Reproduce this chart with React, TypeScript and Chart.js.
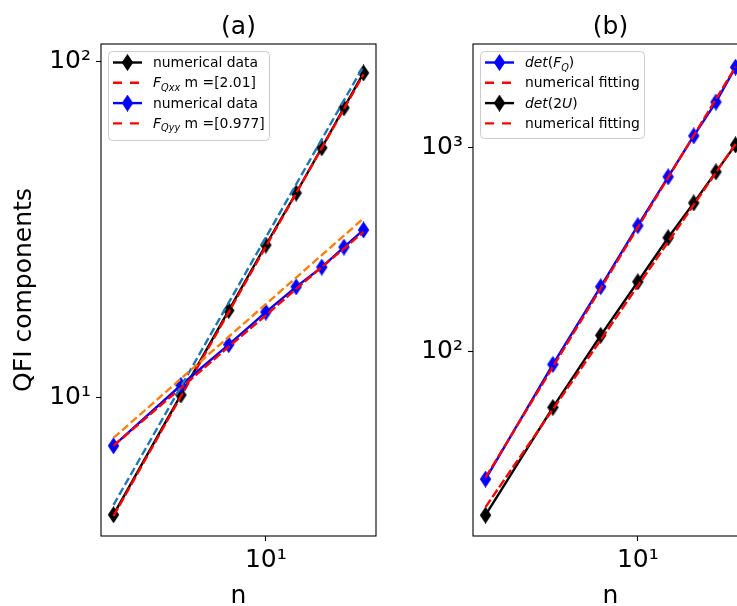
import React, { useEffect, useRef } from 'react';
import { Chart, registerables } from 'chart.js';
Chart.register(...registerables);

// ---------- data ----------
const nValues = [4, 6, 8, 10, 12, 14, 16, 18];
// panel (a)
const qxxData = [4.49, 10.2, 18.2, 28.5, 40.7, 55.5, 73.0, 92.7];
const qxxFit = [4.45, 10.1, 18.0, 28.2, 40.6, 55.4, 72.4, 91.8];
const qyyData = [7.2, 10.9, 14.4, 18.0, 21.4, 24.5, 28.1, 31.6];
const qyyFit = [7.2, 10.7, 14.2, 17.6, 21.1, 24.5, 27.8, 31.2];
const quadGuide = [4.8, 10.8, 19.2, 30.0, 43.2, 58.8, 76.8, 97.2];
const linearGuide = [7.6, 11.4, 15.2, 19.0, 22.8, 26.6, 30.4, 34.2];
// panel (b)
const detFQData = [23.6, 86.4, 208, 415, 721, 1146, 1680, 2494];
const detFQFit = [24.0, 84, 204, 407, 714, 1151, 1738, 2500];
const det2UData = [15.7, 53.1, 120, 220, 362, 537, 763, 1035];
const det2UFit = [17.2, 52.0, 114, 210, 345, 526, 757, 1045];
// ticks
const xTicks = [10];
const yTicksA = [10, 100];
const yTicksB = [100, 1000];

const FONT = '"DejaVu Sans", sans-serif';
const RED = '#ff0000';
const BLUE = '#0000ff';
const BLACK = '#000000';
const C0 = '#1f77b4';
const C1 = '#ff7f0e';
const LW = 2.4;
const RED_DASH = [9, 3];
const GUIDE_DASH = [8, 3.5];
const LEGEND_DASH = [9, 8];

const SUP: Record<string, string> = { '0': '⁰', '1': '¹', '2': '²', '3': '³', '4': '⁴', '5': '⁵', '6': '⁶', '7': '⁷', '8': '⁸', '9': '⁹' };
function powLabel(v: number): string {
  const e = Math.round(Math.log10(v));
  return '10' + String(e).split('').map((c) => SUP[c] || c).join('');
}

function makeDiamond(color: string): HTMLCanvasElement {
  const c = document.createElement('canvas');
  c.width = 13;
  c.height = 17;
  const ctx = c.getContext('2d')!;
  ctx.fillStyle = color;
  ctx.strokeStyle = color;
  ctx.lineWidth = 1.2;
  ctx.beginPath();
  ctx.moveTo(6.5, 1);
  ctx.lineTo(11.5, 8.5);
  ctx.lineTo(6.5, 16);
  ctx.lineTo(1.5, 8.5);
  ctx.closePath();
  ctx.fill();
  ctx.stroke();
  return c;
}

type Seg = { t: string; it?: boolean; sub?: boolean };
type LegendEntry = { dashed: boolean; color: string; marker?: HTMLCanvasElement; segs: Seg[] };
type Decor = { title: string; yTitle?: string; legend: LegendEntry[]; legendW: number; legendH: number };

function drawSegs(ctx: CanvasRenderingContext2D, x: number, baseline: number, segs: Seg[], size: number) {
  let cx = x;
  for (const s of segs) {
    const fs = s.sub ? size * 0.7 : size;
    ctx.font = `${s.it ? 'italic ' : ''}${fs}px ${FONT}`;
    ctx.fillText(s.t, cx, baseline + (s.sub ? size * 0.25 : 0));
    cx += ctx.measureText(s.t).width;
  }
}

function decorPlugin(d: Decor) {
  return {
    id: 'decor',
    afterDraw(chart: any) {
      const ctx: CanvasRenderingContext2D = chart.ctx;
      const a = chart.chartArea;
      ctx.save();
      // spines
      ctx.strokeStyle = BLACK;
      ctx.lineWidth = 1.1;
      ctx.setLineDash([]);
      ctx.strokeRect(a.left, a.top, a.right - a.left, a.bottom - a.top);
      // titles
      ctx.fillStyle = BLACK;
      ctx.font = `25px ${FONT}`;
      ctx.textAlign = 'center';
      ctx.textBaseline = 'alphabetic';
      const cx = (a.left + a.right) / 2;
      ctx.fillText(d.title, cx, 34);
      ctx.fillText('n', cx, 603);
      if (d.yTitle) {
        ctx.save();
        ctx.translate(31, (a.top + a.bottom) / 2);
        ctx.rotate(-Math.PI / 2);
        ctx.fillText(d.yTitle, 0, 0);
        ctx.restore();
      }
      // legend
      const bx = a.left + 7;
      const by = a.top + 7;
      ctx.beginPath();
      ctx.roundRect(bx + 0.5, by + 0.5, d.legendW, d.legendH, 4);
      ctx.fillStyle = 'rgba(255,255,255,0.8)';
      ctx.fill();
      ctx.strokeStyle = '#cccccc';
      ctx.lineWidth = 1;
      ctx.stroke();
      ctx.textAlign = 'left';
      d.legend.forEach((e, i) => {
        const ry = a.top + 18.5 + i * 20.3;
        const x1 = a.left + 12;
        const x2 = a.left + 41;
        ctx.beginPath();
        ctx.strokeStyle = e.color;
        ctx.lineWidth = LW;
        ctx.setLineDash(e.dashed ? LEGEND_DASH : []);
        ctx.moveTo(x1, ry);
        ctx.lineTo(x2, ry);
        ctx.stroke();
        ctx.setLineDash([]);
        if (e.marker) {
          ctx.drawImage(e.marker, (x1 + x2) / 2 - e.marker.width / 2, ry - e.marker.height / 2);
        }
        ctx.fillStyle = BLACK;
        drawSegs(ctx, a.left + 52, ry + 4.6, e.segs, 13.9);
      });
      ctx.restore();
    },
  };
}

function pts(ys: number[]) {
  return nValues.map((x, i) => ({ x, y: ys[i] }));
}

function dataSet(ys: number[], color: string, marker: HTMLCanvasElement) {
  return {
    data: pts(ys),
    borderColor: color,
    backgroundColor: color,
    borderWidth: LW,
    pointStyle: marker,
    pointRadius: 5,
    pointHoverRadius: 5,
    tension: 0,
    fill: false,
  };
}
function fitSet(ys: number[], color: string, dash: number[]) {
  return {
    data: pts(ys),
    borderColor: color,
    backgroundColor: color,
    borderWidth: LW,
    borderDash: dash,
    borderCapStyle: 'butt',
    pointRadius: 0,
    pointHoverRadius: 0,
    tension: 0,
    fill: false,
  };
}

function tickCfg() {
  return {
    font: { family: FONT, size: 25 },
    color: BLACK,
    autoSkip: false,
    maxRotation: 0,
    minRotation: 0,
    callback: (v: any) => powLabel(Number(v)),
  };
}
function gridCfg() {
  return { display: true, drawOnChartArea: false, drawTicks: true, tickLength: 5, tickColor: BLACK, tickWidth: 1.1 };
}

function buildConfig(datasets: any[], yMin: number, yMax: number, yTicks: number[], decor: Decor): any {
  return {
    type: 'line',
    data: { datasets },
    options: {
      animation: false,
      responsive: false,
      events: [],
      layout: { padding: { left: 0, right: 44, top: 44, bottom: 0 } },
      plugins: { legend: { display: false }, title: { display: false }, tooltip: { enabled: false } },
      scales: {
        x: {
          type: 'logarithmic',
          min: 3.71,
          max: 19.4,
          afterBuildTicks: (s: any) => {
            s.ticks = xTicks.map((v) => ({ value: v }));
          },
          afterFit: (s: any) => {
            s.height = 70;
          },
          ticks: { ...tickCfg(), padding: 4 },
          grid: gridCfg(),
          border: { display: false },
        },
        y: {
          type: 'logarithmic',
          min: yMin,
          max: yMax,
          afterBuildTicks: (s: any) => {
            s.ticks = yTicks.map((v) => ({ value: v }));
          },
          afterFit: (s: any) => {
            s.width = 101;
          },
          ticks: { ...tickCfg(), padding: 5 },
          grid: gridCfg(),
          border: { display: false },
        },
      },
    },
    plugins: [decorPlugin(decor)],
  };
}

export default function App() {
  const refA = useRef<HTMLCanvasElement>(null);
  const refB = useRef<HTMLCanvasElement>(null);
  useEffect(() => {
    const dBlack = makeDiamond(BLACK);
    const dBlue = makeDiamond(BLUE);
    const cfgA = buildConfig(
      [
        fitSet(linearGuide, C1, GUIDE_DASH),
        fitSet(quadGuide, C0, GUIDE_DASH),
        fitSet(qyyFit, RED, RED_DASH),
        dataSet(qyyData, BLUE, dBlue),
        fitSet(qxxFit, RED, RED_DASH),
        dataSet(qxxData, BLACK, dBlack),
      ],
      3.88,
      113,
      yTicksA,
      {
        title: '(a)',
        yTitle: 'QFI components',
        legendW: 161,
        legendH: 89,
        legend: [
          { dashed: false, color: BLACK, marker: dBlack, segs: [{ t: 'numerical data' }] },
          { dashed: true, color: RED, segs: [{ t: 'F', it: true }, { t: 'Qxx', it: true, sub: true }, { t: ' m =[2.01]' }] },
          { dashed: false, color: BLUE, marker: dBlue, segs: [{ t: 'numerical data' }] },
          { dashed: true, color: RED, segs: [{ t: 'F', it: true }, { t: 'Qyy', it: true, sub: true }, { t: ' m =[0.977]' }] },
        ],
      }
    );
    const cfgB = buildConfig(
      [
        fitSet(det2UFit, RED, RED_DASH),
        dataSet(det2UData, BLACK, dBlack),
        fitSet(detFQFit, RED, RED_DASH),
        dataSet(detFQData, BLUE, dBlue),
      ],
      12.4,
      3240,
      yTicksB,
      {
        title: '(b)',
        legendW: 164,
        legendH: 87,
        legend: [
          { dashed: false, color: BLUE, marker: dBlue, segs: [{ t: 'det', it: true }, { t: '(' }, { t: 'F', it: true }, { t: 'Q', it: true, sub: true }, { t: ')' }] },
          { dashed: true, color: RED, segs: [{ t: 'numerical fitting' }] },
          { dashed: false, color: BLACK, marker: dBlack, segs: [{ t: 'det', it: true }, { t: '(' }, { t: '2' }, { t: 'U', it: true }, { t: ')' }] },
          { dashed: true, color: RED, segs: [{ t: 'numerical fitting' }] },
        ],
      }
    );
    const charts = [new Chart(refA.current!, cfgA), new Chart(refB.current!, cfgB)];
    return () => charts.forEach((c) => c.destroy());
  }, []);
  return (
    <div style={{ position: 'fixed', left: 0, top: 0, width: 737, height: 606, overflow: 'hidden', background: '#fff' }}>
      <canvas ref={refA} width={420} height={606} style={{ position: 'absolute', left: 0, top: 0 }} />
      <canvas ref={refB} width={420} height={606} style={{ position: 'absolute', left: 372, top: 0 }} />
    </div>
  );
}
